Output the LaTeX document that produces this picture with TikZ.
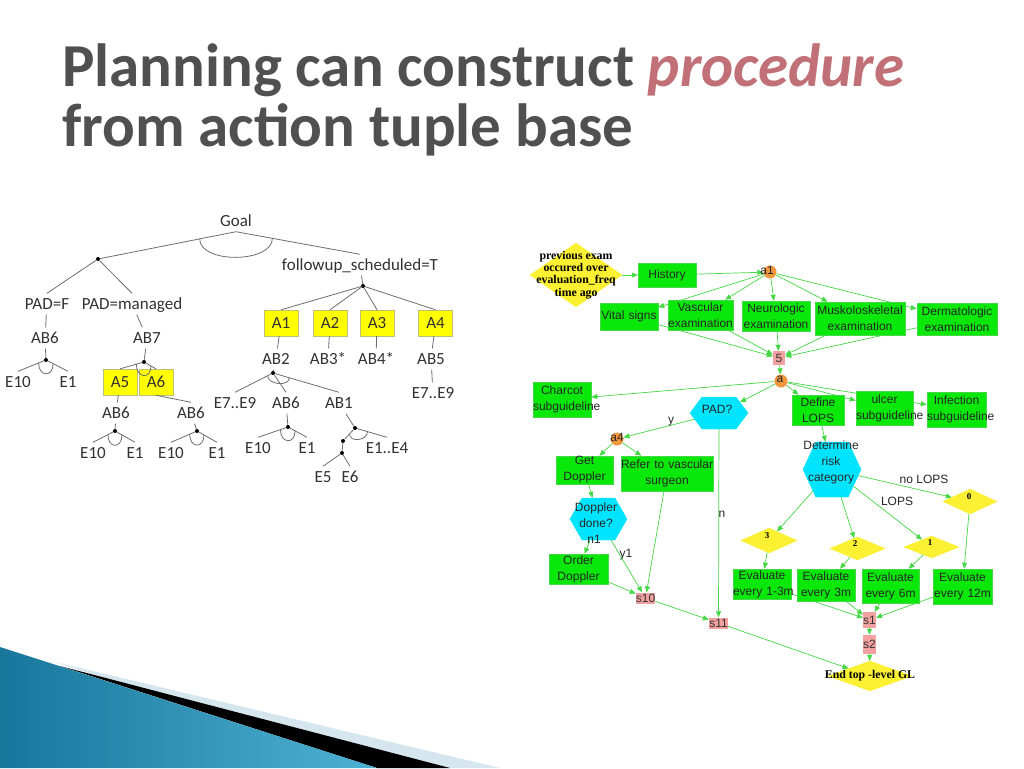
\documentclass[tikz,border=0pt]{standalone}
\usepackage{fontspec}
\setmainfont{Carlito}
\newfontfamily\flowfont{Liberation Sans}
\newfontfamily\notefont{Liberation Serif}
\usetikzlibrary{calc,shapes.geometric,shapes.symbols,arrows.meta,backgrounds}

\definecolor{titlegray}{RGB}{80,80,80}
\definecolor{procrose}{RGB}{192,112,118}
\definecolor{treegray}{RGB}{50,50,50}
\definecolor{treeline}{RGB}{110,110,110}
\definecolor{actyellow}{RGB}{255,255,0}
\definecolor{actline}{RGB}{190,190,120}
\definecolor{flowgreen}{RGB}{10,232,10}
\definecolor{edgegreen}{RGB}{70,215,70}
\definecolor{hexcyan}{RGB}{0,228,255}
\definecolor{splitorange}{RGB}{240,150,60}
\definecolor{joinpink}{RGB}{242,160,160}
\definecolor{diayellow}{RGB}{252,240,50}
\definecolor{wedgedark}{RGB}{24,118,155}
\definecolor{wedgelight}{RGB}{78,178,212}
\definecolor{wedgepale}{RGB}{214,230,238}

\newcommand{\flowsize}{\flowfont\fontsize{12}{16}\selectfont\hyphenpenalty=10000\exhyphenpenalty=10000}

\tikzset{
  tlab/.style={font=\fontsize{17}{20}\selectfont, text=treegray, inner sep=5pt, text height=11pt, text depth=0pt},
  actbox/.style={tlab, draw=actline, fill=actyellow, inner sep=0pt, minimum width=34, minimum height=26},
  tline/.style={draw=treeline, line width=0.8},
  anddot/.style={circle, fill=black, inner sep=0pt, minimum size=4},
  gbox/.style={draw=edgegreen, line width=0.5, fill=flowgreen, inner sep=0pt, align=center, text=black!85, font=\flowsize},
  ftxt/.style={inner sep=0pt, align=center, text=black!85, font=\flowsize},
  notetxt/.style={inner sep=0pt, align=center, text=black, font=\notefont\bfseries\fontsize{11.8}{12.2}\selectfont},
  digit/.style={inner sep=0pt, text=black, font=\notefont\bfseries\fontsize{9}{10}\selectfont},
  hexq/.style={shape=signal, signal to=east and west, fill=hexcyan, draw=hexcyan, inner sep=0pt},
  ydia/.style={diamond, fill=diayellow, draw=diayellow, inner sep=0pt},
  splitdot/.style={circle, fill=splitorange, inner sep=0pt, minimum size=13},
  joinbox/.style={fill=joinpink, inner sep=0pt, text=black!80, font=\flowsize},
  farrow/.style={draw=edgegreen, line width=0.7, -{Triangle[length=6pt,width=5pt]}}
}

\begin{document}
\begin{tikzpicture}[x=1pt, y=-1pt]
\useasboundingbox (0,0) rectangle (1024,768);

% title
\node[anchor=base west, inner sep=0pt, text=titlegray, font=\fontsize{61}{70}\selectfont\bfseries] (title1) at (62,86) {Planning can construct \textcolor{procrose}{\itshape procedure}};
\node[anchor=base west, inner sep=0pt, text=titlegray, font=\fontsize{61}{70}\selectfont\bfseries] (title2) at (62,146) {from action tuple base};

% ---- AND/OR tree
\node[tlab] (goal) at (236,221) {Goal};
\node[anddot] (d1) at (98,259) {};
\node[tlab] (padf) at (47,304) {PAD=F};
\node[tlab] (padm) at (132,304) {PAD=managed};
\node[tlab] (fup) at (360,265) {followup\_scheduled=T};
\node[anddot] (fupd) at (363,286) {};

\node[tlab] (ab6a) at (45,338) {AB6};
\node[anddot] (ab6ad) at (46,360) {};
\node[tlab] (e10a) at (18,382) {E10};
\node[tlab] (e1a) at (68,382) {E1};

\node[tlab] (ab7) at (147,338) {AB7};
\node[anddot] (ab7d) at (144,362) {};
\node[actbox] (a5) at (120,382) {A5};
\node[actbox] (a6) at (156,382) {A6};
\node[tlab] (ab6b) at (116,413) {AB6};
\node[tlab] (ab6c) at (191,413) {AB6};
\node[anddot] (ab6bd) at (115,431) {};
\node[anddot] (ab6cd) at (197,431) {};
\node[tlab] (e10b) at (93,453) {E10};
\node[tlab] (e1b) at (135,453) {E1};
\node[tlab] (e10c) at (171,453) {E10};
\node[tlab] (e1c) at (217,453) {E1};

\node[actbox] (a1) at (281,323) {A1};
\node[actbox] (a2) at (330,323) {A2};
\node[actbox] (a3) at (377,323) {A3};
\node[actbox] (a4) at (435.5,323) {A4};
\node[tlab] (ab2) at (276,359) {AB2};
\node[tlab] (ab3) at (328,359) {AB3*};
\node[tlab] (ab4) at (376,359) {AB4*};
\node[tlab] (ab5) at (431,359) {AB5};
\node[tlab] (e79b) at (433,393) {E7..E9};

\node[anddot] (ab2d) at (273,373) {};
\node[tlab] (e79a) at (235,403) {E7..E9};
\node[tlab] (ab6d) at (286,403) {AB6};
\node[tlab] (ab1) at (339,403) {AB1};
\node[anddot] (ab6dd) at (288,427) {};
\node[tlab] (e10d) at (258,448) {E10};
\node[tlab] (e1d) at (307,448) {E1};
\node[anddot] (ab1d) at (355,428) {};
\node[anddot] (ab1e) at (343,441) {};
\node[anddot] (ab1f) at (342,453) {};
\node[tlab] (e14) at (387,448) {E1..E4};
\node[tlab] (e5) at (323,477) {E5};
\node[tlab] (e6) at (350,477) {E6};

\draw[tline] (d1) -- (goal.south) -- (fup.north);
\draw[tline] ($(goal.south)!37pt!(d1)$) .. controls +(0,25) and +(0,25) .. ($(goal.south)!37pt!(fup.north)$);
\draw[tline] (padf.north) -- (d1) -- (padm.north);
\draw[tline] (fup) -- (fupd);
\foreach \a in {a1,a2,a3,a4}
  \draw[tline] (fupd) -- (\a.north);
\foreach \p/\c in {padf/ab6a, padm/ab7, a1/ab2, a2/ab3, a3/ab4, a4/ab5, ab5/e79b, a5/ab6b}
  \draw[tline] (\p) -- (\c);
\draw[tline] (a6.south) -- (ab6c.north);
% and-splits
\foreach \p/\d/\l/\r in {ab6a/ab6ad/e10a/e1a, ab6b/ab6bd/e10b/e1b, ab6c/ab6cd/e10c/e1c, ab6d/ab6dd/e10d/e1d}{
  \draw[tline] (\p) -- (\d);
  \draw[tline] (\l.north) -- (\d) -- (\r.north);
  \draw[tline] ($(\d)!8pt!(\l.north)$) .. controls +(0,14) and +(0,14) .. ($(\d)!8pt!(\r.north)$);
}
\draw[tline] (ab7) -- (ab7d);
\draw[tline] (a5.north) -- (ab7d) -- (a6.north);
\draw[tline] ($(ab7d)!8pt!(a5.north)$) .. controls +(0,14) and +(0,14) .. ($(ab7d)!8pt!(a6.north)$);
\draw[tline] (ab2) -- (ab2d);
\draw[tline] (e79a.north) -- (ab2d) -- (ab1.north);
\draw[tline] (ab2d) -- (ab6d.north);
\draw[tline] ($(ab2d)!6pt!(e79a.north)$) .. controls +(0,9) and +(0,9) .. ($(ab2d)!17pt!(ab1.north)$);
\draw[tline] (ab1) -- (ab1d);
\draw[tline] (ab1e) -- (ab1d) -- (e14.north);
\draw[tline] ($(ab1d)!8pt!(ab1e)$) .. controls +(0,9) and +(0,9) .. ($(ab1d)!13pt!(e14.north)$);
\draw[tline] (ab1e) -- (ab1f);
\draw[tline] (e5.north) -- (ab1f) -- (e6.north);

% ---- procedure flowchart
\node[ydia, minimum width=92, minimum height=64] (prev) at (576,275) {};
\node[notetxt] (prevt) at (prev) {previous exam\\occured over\\evaluation\_freq\\time ago};
\node[gbox, text width=58, minimum height=24] (hist) at (667,275) {History};
\node[splitdot] (a1c) at (770,272) {};
\node[ftxt] (a1t) at (767,270) {a1};
\node[gbox, text width=58, minimum height=27] (vit) at (629,316.5) {Vital~signs};
\node[gbox, text width=65, minimum height=30] (vasc) at (700.5,315) {Vascular\\examination};
\node[gbox, text width=68, minimum height=30] (neur) at (776,316) {Neurologic\\examination};
\node[gbox, text width=90, minimum height=33] (musk) at (860,318.5) {Muskoloskeletal\\examination};
\node[gbox, text width=80, minimum height=32] (derm) at (957,319) {Dermatologic\\examination};
\node[joinbox, minimum width=12, minimum height=14] (five) at (779,358) {5};
\node[splitdot] (ac) at (781,381) {};
\node[ftxt] (act) at (780,379) {a};

\node[gbox, text width=58, minimum height=35] (charc) at (562,399.5) {Charcot\\subguideline};
\node[hexq, minimum width=58, minimum height=32, signal pointer angle=106] (pad) at (719,413) {};
\node[ftxt] (padt) at (717,409) {PAD?};
\node[gbox, text width=52, minimum height=30] (defl) at (818,410) {Define\\LOPS};
\node[gbox, text width=57, minimum height=34] (ulcer) at (884.5,408) {ulcer\\subguideline};
\node[gbox, text width=59, minimum height=35] (infec) at (956.5,409.5) {Infection\\subguideline};
\node[hexq, minimum width=58, minimum height=55, signal pointer angle=130] (det) at (832,469.5) {};
\node[ftxt] (dett) at (831,462.5) {Determine\\risk\\category};

\node[splitdot] (a4c) at (617,439) {};
\node[ftxt] (a4t) at (617,437) {a4};
\node[gbox, text width=57, minimum height=28] (getd) at (584.5,470) {Get\\Doppler};
\node[gbox, text width=92, minimum height=35] (refer) at (667,473.5) {Refer~to~vascular\\surgeon};
\node[hexq, minimum width=57, minimum height=42, signal pointer angle=120] (dopd) at (598.5,519) {};
\node[ftxt] (dopdt) at (596,515) {Doppler\\done?};
\node[gbox, text width=59, minimum height=30] (order) at (578.5,569) {Order\\Doppler};
\node[joinbox, minimum width=19, minimum height=11] (s10) at (645.5,598) {s10};
\node[joinbox, minimum width=19, minimum height=11] (s11) at (718.5,623) {s11};

\node[ydia, minimum width=54, minimum height=25] (zero) at (970,501.5) {};
\node[digit] (zerot) at (969,497) {0};
\node[ydia, minimum width=56, minimum height=25] (three) at (769,540.5) {};
\node[digit] (threet) at (767,536) {3};
\node[ydia, minimum width=55, minimum height=23] (two) at (857.5,548.5) {};
\node[digit] (twot) at (855,544) {2};
\node[ydia, minimum width=55, minimum height=22] (one) at (931.5,547) {};
\node[digit] (onet) at (930,543) {1};

\node[gbox, text width=58, minimum height=30] (ev13) at (762,584) {Evaluate\\every~1-3m};
\node[gbox, text width=58, minimum height=32] (ev3) at (826,585) {Evaluate\\every~3m};
\node[gbox, text width=57, minimum height=34] (ev6) at (890.5,586) {Evaluate\\every~6m};
\node[gbox, text width=59, minimum height=35] (ev12) at (962.5,586.5) {Evaluate\\every~12m};
\node[joinbox, minimum width=11, minimum height=16] (s1) at (869.5,620) {s1};
\node[joinbox, minimum width=13, minimum height=19] (s2) at (869.5,644.5) {s2};
\node[ydia, minimum width=84, minimum height=30] (endgl) at (870,676) {};
\node[notetxt] (endglt) at (endgl) {End top -level GL};

% edge labels
\node[ftxt] (lbly) at (671,422) {y};
\node[ftxt] (lbln) at (722,514) {n};
\node[ftxt] (lbln1) at (594,539) {n1};
\node[ftxt] (lbly1) at (626,555) {y1};
\node[ftxt] (lblno) at (924,479) {no LOPS};
\node[ftxt] (lbllops) at (897,501) {LOPS};

\begin{pgfonlayer}{background}
\fill[white] (0,0) rectangle (1024,768);
% slide corner
\fill[wedgepale] (55,662) -- (500,768) -- (377,768) -- cycle;
\fill[black] (60,666) -- (450,768) -- (377,768) -- cycle;
\shade[left color=wedgedark, right color=wedgelight] (0,647) -- (377,768) -- (0,768) -- cycle;

\foreach \s/\t in {prev/hist, hist/a1c, a1c/vit, a1c/vasc, a1c/neur, a1c/musk, a1c/derm,
    vit/five, vasc/five, neur/five, musk/five, derm/five, five/ac,
    ac/charc, ac/pad, ac/defl, ac/ulcer, ac/infec, defl/det,
    det/zero, det/three, det/two, det/one,
    three/ev13, two/ev3, one/ev6, zero/ev12,
    ev13/s1, ev3/s1, ev6/s1, ev12/s1, s1/s2, s2/endgl, s11/endgl,
    pad/s11, pad/a4c, a4c/getd, a4c/refer, getd/dopd, dopd/order, dopd/s10,
    refer/s10, order/s10, s10/s11}
  \draw[farrow] (\s) -- (\t);
\end{pgfonlayer}

\end{tikzpicture}
\end{document}
